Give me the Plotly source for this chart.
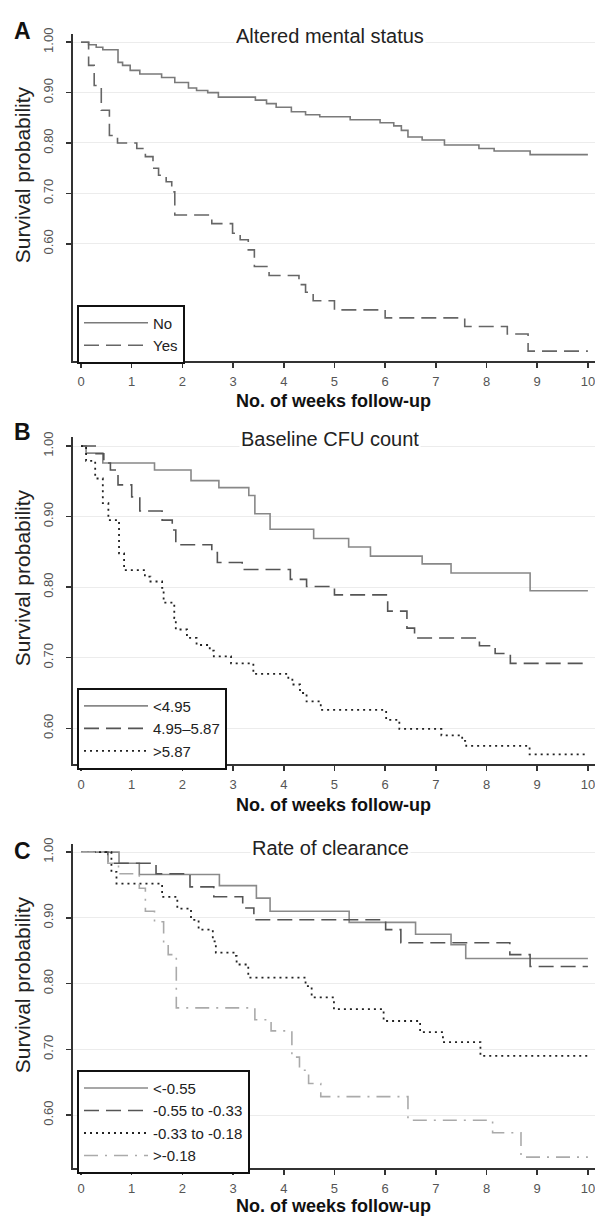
import plotly.graph_objects as go

# ---------------- data (weeks, survival probability) ----------------
# Panel A: Altered mental status
a_no_t = [0, 0.15, 0.30, 0.43, 0.73, 0.82, 0.97, 1.16, 1.59, 1.85, 2.12, 2.28, 2.50, 2.71, 3.44, 3.66,
          3.85, 4.15, 4.43, 4.71, 5.31, 5.90, 6.17, 6.32, 6.45, 6.73, 7.17, 7.85, 8.15, 8.86, 10.0]
a_no_s = [1.00, 0.995, 0.99, 0.985, 0.96, 0.954, 0.944, 0.937, 0.93, 0.92, 0.909, 0.904, 0.90, 0.891, 0.885, 0.878,
          0.871, 0.862, 0.856, 0.852, 0.846, 0.84, 0.834, 0.825, 0.812, 0.806, 0.796, 0.789, 0.784, 0.777, 0.777]
a_yes_t = [0, 0.15, 0.26, 0.40, 0.56, 0.72, 1.10, 1.27, 1.42, 1.53, 1.68, 1.79, 1.85, 2.58, 2.99, 3.14,
           3.30, 3.42, 3.71, 4.30, 4.43, 4.58, 5.00, 6.00, 7.57, 8.41, 8.82, 10.0]
a_yes_s = [1.00, 0.954, 0.914, 0.865, 0.815, 0.80, 0.789, 0.773, 0.75, 0.736, 0.723, 0.703, 0.657, 0.64, 0.621, 0.608,
           0.588, 0.555, 0.537, 0.519, 0.504, 0.487, 0.469, 0.453, 0.436, 0.421, 0.387, 0.387]

# Panel B: Baseline CFU count
b_low_t = [0, 0.10, 0.43, 1.45, 2.17, 2.72, 3.31, 3.43, 3.73, 4.59, 5.28, 5.71, 6.73, 7.30, 8.86, 10.0]
b_low_s = [1.00, 0.990, 0.976, 0.966, 0.951, 0.941, 0.930, 0.904, 0.882, 0.869, 0.857, 0.844, 0.833, 0.820, 0.795, 0.795]
b_mid_t = [0, 0.28, 0.45, 0.58, 0.73, 1.00, 1.16, 1.60, 1.80, 1.87, 2.58, 2.69, 3.18, 4.13, 4.45, 5.00,
           6.05, 6.43, 6.58, 7.86, 8.17, 8.47, 10.0]
b_mid_s = [1.00, 0.989, 0.976, 0.966, 0.945, 0.928, 0.908, 0.895, 0.881, 0.86, 0.849, 0.835, 0.825, 0.811, 0.801, 0.789,
           0.766, 0.742, 0.728, 0.717, 0.706, 0.692, 0.692]
b_high_t = [0, 0.10, 0.28, 0.43, 0.54, 0.75, 0.85, 1.26, 1.37, 1.60, 1.63, 1.84, 1.87, 2.09, 2.28, 2.54,
            2.62, 2.96, 3.40, 4.09, 4.17, 4.32, 4.45, 4.73, 6.02, 6.28, 7.11, 7.52, 7.60, 8.85, 10.0]
b_high_s = [1.00, 0.979, 0.954, 0.919, 0.895, 0.848, 0.824, 0.815, 0.808, 0.799, 0.778, 0.756, 0.740, 0.728, 0.718, 0.710,
            0.702, 0.692, 0.677, 0.669, 0.662, 0.650, 0.638, 0.626, 0.612, 0.599, 0.590, 0.582, 0.575, 0.563, 0.563]

# Panel C: Rate of clearance
c1_t = [0, 0.75, 1.15, 2.73, 3.46, 3.73, 5.29, 6.60, 7.30, 7.59, 10.0]
c1_s = [1.00, 0.983, 0.966, 0.949, 0.930, 0.910, 0.893, 0.875, 0.859, 0.838, 0.838]
c2_t = [0, 0.53, 1.48, 2.15, 2.62, 3.19, 3.41, 6.01, 6.31, 8.46, 8.86, 10.0]
c2_s = [1.00, 0.983, 0.967, 0.947, 0.932, 0.915, 0.897, 0.882, 0.862, 0.844, 0.826, 0.826]
c3_t = [0, 0.60, 0.70, 1.60, 1.90, 2.17, 2.32, 2.60, 2.66, 3.03, 3.07, 3.30, 4.43, 4.55, 4.99, 5.97,
        6.69, 7.14, 7.88, 10.0]
c3_s = [1.00, 0.97, 0.952, 0.932, 0.914, 0.897, 0.882, 0.864, 0.847, 0.842, 0.829, 0.809, 0.796, 0.779, 0.761, 0.743,
        0.726, 0.711, 0.690, 0.690]
c4_t = [0, 0.53, 0.74, 1.15, 1.27, 1.45, 1.63, 1.72, 1.88, 3.43, 3.75, 4.16, 4.31, 4.49, 4.73, 6.45,
        8.12, 8.68, 10.0]
c4_s = [1.00, 0.983, 0.967, 0.945, 0.91, 0.894, 0.86, 0.844, 0.763, 0.745, 0.728, 0.688, 0.668, 0.648, 0.628, 0.592,
        0.573, 0.536, 0.536]

panel_titles = ["Altered mental status", "Baseline CFU count", "Rate of clearance"]
panel_letters = ["A", "B", "C"]
x_ticks = list(range(0, 11))
y_ticks = [0.6, 0.7, 0.8, 0.9, 1.0]
y_ticktext = ["0.60", "0.70", "0.80", "0.90", "1.00"]

# ---------------- layout geometry ----------------
W, H = 595, 1219
FONT = "Liberation Sans, Arial, sans-serif"

def py(px):
    return 1 - px / H

# pixel tops/bottoms of each panel's plotting area
panels = [
    dict(top=28, bot=357, yr=[0.367, 1.0165], leg_top=300, title_y=30, letter_y=25, xt_bot=409, yt_y=170),
    dict(top=433, bot=762, yr=[0.549, 1.013], leg_top=685, title_y=435, letter_y=428, xt_bot=815, yt_y=575),
    dict(top=842, bot=1168, yr=[0.519, 1.0125], leg_top=1069, title_y=846, letter_y=849, xt_bot=1218, yt_y=984),
]
x_dom = [73 / W, 1.0]
x_rng = [-0.158, 10.14]

fig = go.Figure()

series = [
    # (panel index, t, s, name, color, dash, width)
    (0, a_no_t, a_no_s, "No", "#7a7a7a", "solid", 1.6),
    (0, a_yes_t, a_yes_s, "Yes", "#666666", "15px,7px", 1.6),
    (1, b_low_t, b_low_s, "<4.95", "#888888", "solid", 1.6),
    (1, b_mid_t, b_mid_s, "4.95\u20135.87", "#555555", "15px,7px", 1.6),
    (1, b_high_t, b_high_s, ">5.87", "#222222", "2px,4px", 1.8),
    (2, c1_t, c1_s, "<-0.55", "#8a8a8a", "solid", 1.6),
    (2, c2_t, c2_s, "-0.55 to -0.33", "#555555", "15px,7px", 1.6),
    (2, c3_t, c3_s, "-0.33 to -0.18", "#222222", "2px,4px", 1.8),
    (2, c4_t, c4_s, ">-0.18", "#aaaaaa", "14px,7px,2px,7px", 1.6),
]

for (pi, t, s, name, color, dash, wdt) in series:
    sfx = "" if pi == 0 else str(pi + 1)
    fig.add_trace(go.Scatter(
        x=t, y=s, mode="lines", name=name,
        line=dict(shape="hv", color=color, dash=dash, width=wdt),
        xaxis="x" + sfx, yaxis="y" + sfx,
        legend="legend" + sfx,
        hoverinfo="skip",
    ))

layout = dict(
    width=W, height=H,
    margin=dict(l=0, r=0, t=0, b=0),
    paper_bgcolor="white", plot_bgcolor="white",
    font=dict(family=FONT, color="#222"),
    annotations=[],
)

for i, p in enumerate(panels):
    sfx = "" if i == 0 else str(i + 1)
    layout["xaxis" + sfx] = dict(
        domain=x_dom, range=x_rng, anchor="y" + sfx,
        tickvals=x_ticks, ticks="outside", ticklen=5, tickwidth=1.5, tickcolor="#333",
        showline=True, linecolor="#333", linewidth=1.6, showgrid=False, zeroline=False,
        tickfont=dict(size=13, color="#555", family=FONT), ticklabelstandoff=3,
        ticklabeloverflow="allow",
        fixedrange=True,
    )
    layout["yaxis" + sfx] = dict(
        domain=[py(p["bot"]), py(p["top"])], range=p["yr"], anchor="x" + sfx,
        tickvals=y_ticks, ticktext=y_ticktext, tickangle=-90,
        ticks="outside", ticklen=5, tickwidth=1.5, tickcolor="#333",
        showline=True, linecolor="#333", linewidth=1.6,
        showgrid=True, gridcolor="#ececec", gridwidth=1, zeroline=False,
        tickfont=dict(size=13, color="#555", family=FONT), ticklabelstandoff=8,
        fixedrange=True,
    )
    layout["legend" + sfx] = dict(
        x=77 / W, y=py(p["leg_top"]), xanchor="left", yanchor="top",
        bgcolor="white", bordercolor="#111", borderwidth=2,
        font=dict(size=15, color="#222", family=FONT),
        itemwidth=64, tracegroupgap=0,
    )
    # panel title
    layout["annotations"].append(dict(
        text=panel_titles[i], x=330 / W, y=py(p["title_y"]), xref="paper", yref="paper",
        showarrow=False, font=dict(size=20, color="#222", family=FONT),
        bgcolor="white", xanchor="center", yanchor="middle",
    ))
    # panel letter
    layout["annotations"].append(dict(
        text="<b>" + panel_letters[i] + "</b>", x=22 / W, y=py(p["letter_y"]),
        xref="paper", yref="paper", showarrow=False,
        font=dict(size=23, color="#111", family=FONT), xanchor="center", yanchor="middle",
    ))
    # x-axis title
    layout["annotations"].append(dict(
        text="<b>No. of weeks follow-up</b>", x=333 / W, y=py(p["xt_bot"]),
        xref="paper", yref="paper", showarrow=False,
        font=dict(size=18, color="#111", family=FONT), xanchor="center", yanchor="bottom",
    ))
    # y-axis title
    layout["annotations"].append(dict(
        text="Survival probability", x=22 / W, y=py(p["yt_y"]),
        xref="paper", yref="paper", showarrow=False, textangle=-90,
        font=dict(size=21, color="#222", family=FONT), xanchor="center", yanchor="middle",
    ))

fig.update_layout(**layout)
fig.write_html(
    "out.html",
    config={"displayModeBar": False, "staticPlot": True},
    post_script="document.body.style.margin='0';document.body.style.padding='0';document.body.style.overflow='hidden';",
)
